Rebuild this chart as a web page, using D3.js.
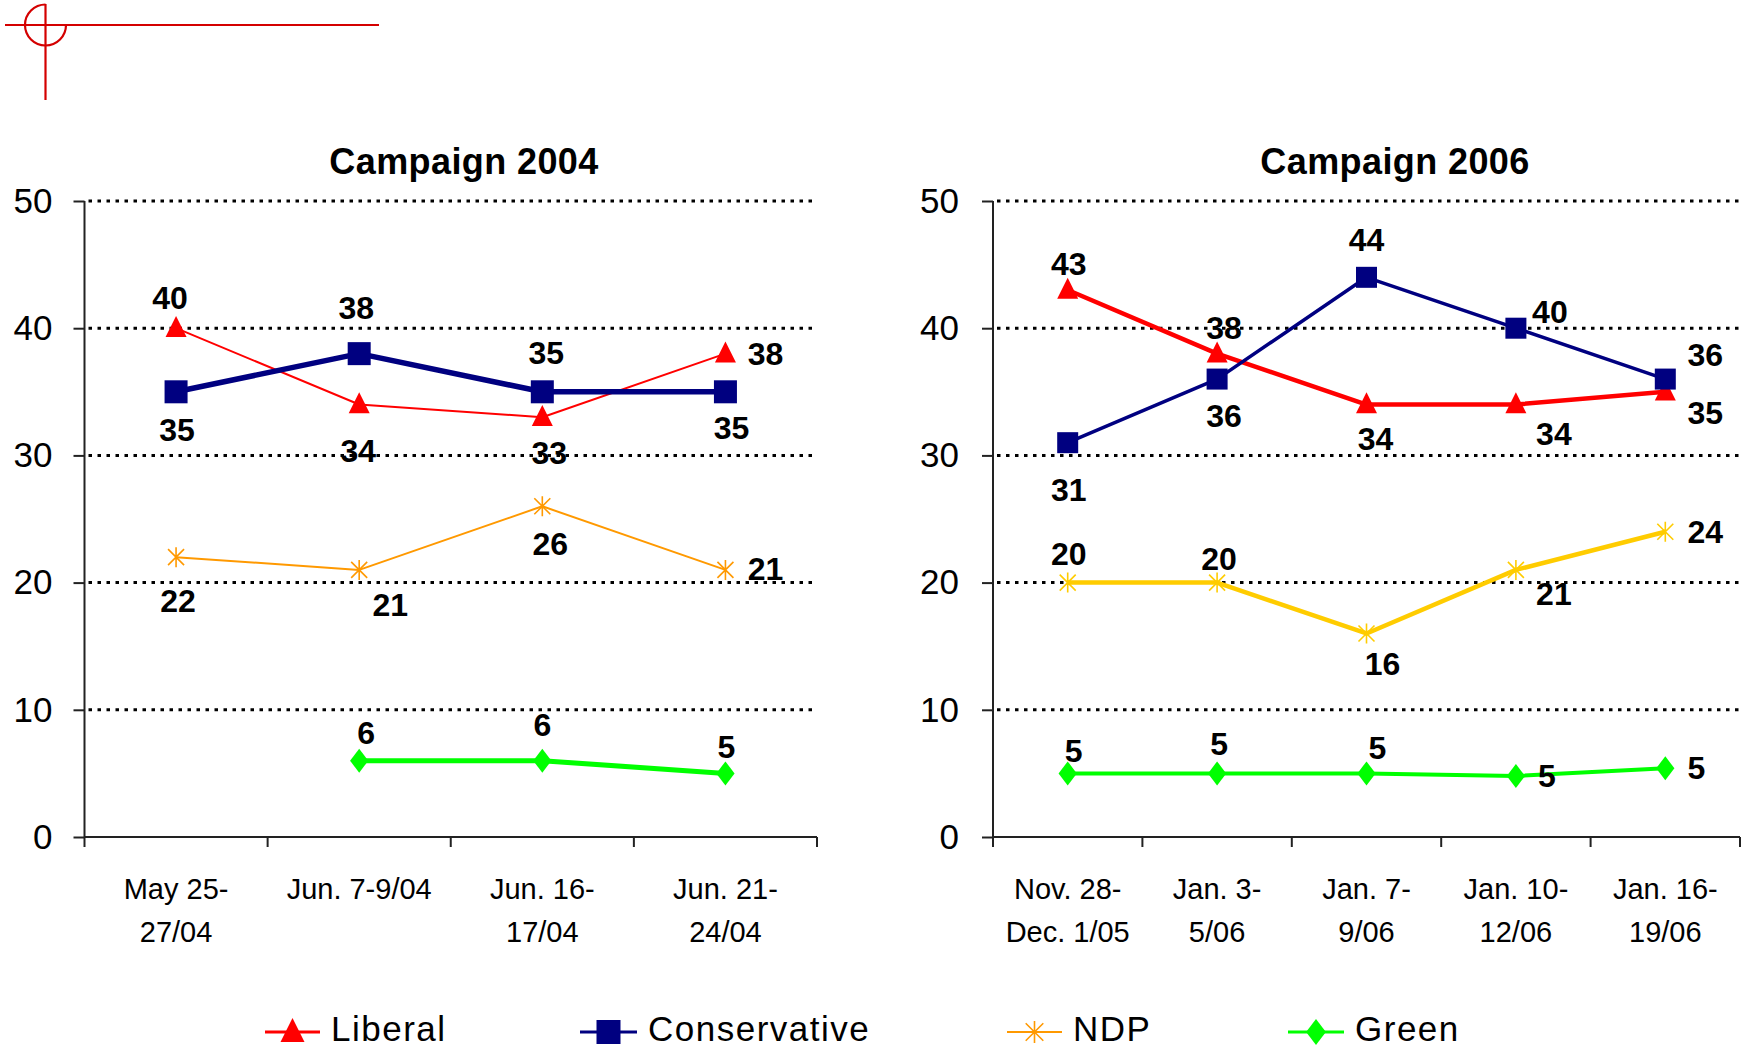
<!DOCTYPE html>
<html><head><meta charset="utf-8">
<script src="https://cdn.jsdelivr.net/npm/d3@7"></script>
<style>html,body{margin:0;padding:0;background:#fff;overflow:hidden}svg{display:block}text{font-family:"Liberation Sans",Arial,sans-serif}</style>
</head><body>
<script>
// ---------- DATA ----------
const categories2004 = [["May 25-","27/04"],["Jun. 7-9/04"],["Jun. 16-","17/04"],["Jun. 21-","24/04"]];
const categories2006 = [["Nov. 28-","Dec. 1/05"],["Jan. 3-","5/06"],["Jan. 7-","9/06"],["Jan. 10-","12/06"],["Jan. 16-","19/06"]];
const liberal2004 = [40,34,33,38];
const conservative2004 = [35,38,35,35];
const ndp2004 = [22,21,26,21];
const green2004 = [null,6,6,5];
const liberal2006 = [43,38,34,34,35];
const conservative2006 = [31,36,44,40,36];
const ndp2006 = [20,20,16,21,24];
const green2006 = [5,5,5,4.8,5.4];
const green2006Labels = ["5","5","5","5","5"];
const yTicks = [0,10,20,30,40,50];
const seriesNames = ["Liberal","Conservative","NDP","Green"];
const titles = ["Campaign 2004","Campaign 2006"];

// ---------- LAYOUT / STYLE ----------
const W = 1744, H = 1049;
const svg = d3.select("body").append("svg").attr("width",W).attr("height",H);

// logo
const logo = svg.append("g").attr("stroke","#D40000").attr("stroke-width",2.2).attr("fill","none");
logo.append("line").attr("x1",5).attr("x2",379).attr("y1",25).attr("y2",25);
logo.append("line").attr("x1",45.5).attr("x2",45.5).attr("y1",4).attr("y2",100);
const arc = d3.arc().innerRadius(20.5).outerRadius(20.5);
logo.append("path").attr("transform","translate(45.5,25)")
  .attr("d", arc({startAngle:Math.PI*0.5, endAngle:Math.PI*2}));

const styles = {
  "2004": {lib:{c:"#FF0000",w:2}, con:{c:"#000080",w:5.5}, ndp:{c:"#FF9900",w:2}, grn:{c:"#00FF00",w:5}},
  "2006": {lib:{c:"#FF0000",w:4.5}, con:{c:"#000080",w:3.5}, ndp:{c:"#FFCC00",w:4.5}, grn:{c:"#00FF00",w:4}}
};

// label offsets [dx,dy] in px
const off2004 = {
  lib:[[-6,-30],[-1,46],[7,36],[40,0]],
  con:[[1,38],[-3,-46],[4,-39],[6,36]],
  ndp:[[2,44],[31,35],[8,38],[40,-1]],
  grn:[[0,0],[7,-28],[0,-36],[1,-27]]
};
const off2006 = {
  lib:[[1,-26],[7,-26],[9,34],[38,29],[40,21]],
  con:[[1,47],[7,37],[0,-38],[34,-16],[40,-24]],
  ndp:[[1,-29],[2,-24],[16,30],[38,24],[40,0]],
  grn:[[6,-23],[2,-30],[11,-26],[31,0],[31,-1]]
};

function marker(g, type, x, y, color, s){
  if(type==="tri"){
    g.append("path").attr("d",`M${x},${y-s*0.58}L${x+s*0.5},${y+s*0.42}L${x-s*0.5},${y+s*0.42}Z`).attr("fill",color);
  } else if(type==="sq"){
    g.append("rect").attr("x",x-s/2).attr("y",y-s/2).attr("width",s).attr("height",s).attr("fill",color);
  } else if(type==="dia"){
    g.append("path").attr("d",`M${x},${y-s/2}L${x+s*0.38},${y}L${x},${y+s/2}L${x-s*0.38},${y}Z`).attr("fill",color);
  } else if(type==="ast"){
    const h=s/2;
    g.append("path").attr("d",`M${x},${y-h}V${y+h}M${x-h*0.8},${y-h*0.8}L${x+h*0.8},${y+h*0.8}M${x+h*0.8},${y-h*0.8}L${x-h*0.8},${y+h*0.8}`)
      .attr("stroke",color).attr("stroke-width",1.6).attr("fill","none");
  }
}

function drawChart(cfg){
  const g = svg.append("g");
  const x = d3.scaleBand().domain(cfg.cats.map((d,i)=>i)).range([cfg.x0,cfg.x1]);
  const y = d3.scaleLinear().domain([0,50]).range([837,201]);
  const cx = i => x(i)+x.bandwidth()/2;

  // title
  g.append("text").attr("x",cfg.titleX).attr("y",174).attr("text-anchor","middle")
    .attr("font-size",36).attr("letter-spacing",0.4).attr("font-weight","bold").text(cfg.title);

  // gridlines
  g.selectAll(".grid").data(yTicks.filter(t=>t>0)).enter().append("line")
    .attr("x1",cfg.x0+4).attr("x2",cfg.x1).attr("y1",d=>y(d)).attr("y2",d=>y(d))
    .attr("stroke","#000").attr("stroke-width",3).attr("stroke-dasharray","3.5 5.5");

  // y axis
  const ya = g.append("g").attr("transform",`translate(${cfg.x0},0)`)
    .call(d3.axisLeft(y).tickValues(yTicks).tickSize(11).tickPadding(cfg.ypad).tickFormat(d3.format("d")));
  ya.select(".domain").attr("stroke","#222").attr("stroke-width",2).attr("d",`M0,${y(50)}V${y(0)}`);
  ya.selectAll(".tick line").attr("stroke","#222").attr("stroke-width",2);
  ya.selectAll(".tick text").attr("font-size",35).attr("fill","#000").attr("font-family","Liberation Sans, Arial, sans-serif");

  // x axis
  const xa = g.append("g").attr("transform",`translate(0,${y(0)})`);
  xa.append("line").attr("x1",cfg.x0).attr("x2",cfg.x1).attr("stroke","#222").attr("stroke-width",2);
  const edges = cfg.cats.map((d,i)=>x(i)).concat([cfg.x1]);
  xa.selectAll(".xt").data(edges).enter().append("line")
    .attr("x1",d=>d).attr("x2",d=>d).attr("y1",0).attr("y2",10).attr("stroke","#222").attr("stroke-width",2);
  const lbl = xa.selectAll(".xl").data(cfg.cats).enter().append("text")
    .attr("text-anchor","middle").attr("font-size",29).attr("fill","#000");
  lbl.each(function(d,i){
    const t=d3.select(this);
    d.forEach((line,k)=>t.append("tspan").attr("x",cx(i)).attr("y",62+k*43).text(line));
  });

  // series
  const order = [
    {key:"grn",vals:cfg.grn,m:"dia",s:24,lab:cfg.grnLab},
    {key:"ndp",vals:cfg.ndp,m:"ast",s:20},
    {key:"lib",vals:cfg.lib,m:"tri",s:21},
    {key:"con",vals:cfg.con,m:"sq",s:cfg.sq}
  ];
  const lineGen = d3.line().defined(d=>d.v!=null).x(d=>cx(d.i)).y(d=>y(d.v));
  order.forEach(s=>{
    const st = cfg.style[s.key];
    const pts = s.vals.map((v,i)=>({v,i}));
    g.append("path").attr("d",lineGen(pts)).attr("fill","none").attr("stroke",st.c)
      .attr("stroke-width",st.w).attr("stroke-linejoin","round");
    pts.forEach(p=>{ if(p.v!=null) marker(g,s.m,cx(p.i),y(p.v),st.c,s.s); });
  });
  order.forEach(s=>{
    s.vals.forEach((v,i)=>{
      if(v==null) return;
      const o = cfg.off[s.key][i];
      g.append("text").attr("x",cx(i)+o[0]).attr("y",y(v)+o[1]).attr("dy","0.35em")
        .attr("text-anchor","middle").attr("font-size",32).attr("font-weight","bold").attr("fill","#000")
        .text(s.lab? s.lab[i] : d3.format("d")(v));
    });
  });
}

drawChart({cats:categories2004,x0:84.5,x1:817,title:titles[0],titleX:464,ypad:21,
  lib:liberal2004,con:conservative2004,ndp:ndp2004,grn:green2004,style:styles["2004"],off:off2004,sq:23});
drawChart({cats:categories2006,x0:993,x1:1740,title:titles[1],titleX:1395,ypad:23,
  lib:liberal2006,con:conservative2006,ndp:ndp2006,grn:green2006,grnLab:green2006Labels,style:styles["2006"],off:off2006,sq:21});

// legend
const legendItems = [
  {name:seriesNames[0],c:"#FF0000",m:"tri",x1:265,x2:320,tx:331,s:24},
  {name:seriesNames[1],c:"#000080",m:"sq",x1:580,x2:637,tx:648,s:24},
  {name:seriesNames[2],c:"#FF9900",m:"ast",x1:1007,x2:1062,tx:1073,s:22},
  {name:seriesNames[3],c:"#00FF00",m:"dia",x1:1288,x2:1344,tx:1355,s:26}
];
const lg = svg.append("g");
legendItems.forEach(it=>{
  lg.append("line").attr("x1",it.x1).attr("x2",it.x2).attr("y1",1032).attr("y2",1032)
    .attr("stroke",it.c).attr("stroke-width",it.m==="ast"?2:3);
  marker(lg,it.m,(it.x1+it.x2)/2,1032,it.c,it.s);
  lg.append("text").attr("x",it.tx).attr("y",1041).attr("font-size",35).attr("letter-spacing",1.5)
    .attr("fill","#000").text(it.name);
});
</script>
</body></html>
